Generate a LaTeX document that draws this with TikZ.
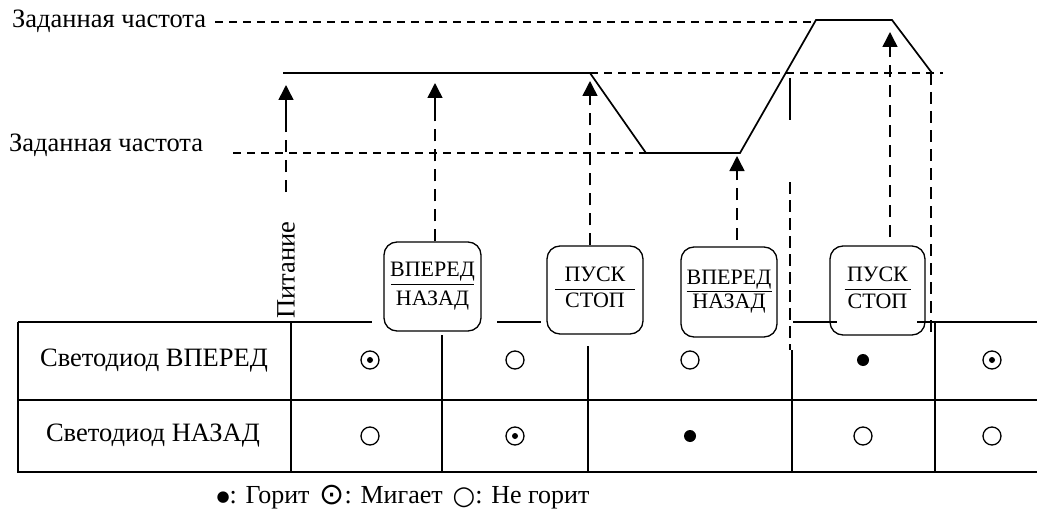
\documentclass[tikz,border=0pt]{standalone}
\usepackage{fontspec}
\setmainfont{Liberation Serif}
\newfontfamily\symf{DejaVu Sans}
\usetikzlibrary{arrows.meta}
\newcommand\frc[4]{\raisebox{#4}{\begin{tabular}{@{}c@{}}\makebox[#3]{#1}\\\hline\rule{0pt}{#2}\makebox[#3]{НАЗАД}\end{tabular}}}
\newcommand\frcb[4]{\raisebox{#4}{\begin{tabular}{@{}c@{}}\makebox[#3]{#1}\\\hline\rule{0pt}{#2}\makebox[#3]{СТОП}\end{tabular}}}
\begin{document}
\begin{tikzpicture}[x=1pt,y=-1pt,
  wave/.style={line width=1.7pt},
  hdash/.style={line width=1.5pt, dash pattern=on 8pt off 6pt},
  vdash/.style={line width=1.5pt, dash pattern=on 12pt off 8pt},
  arr/.style={-{Triangle[length=15pt,width=15pt]}, line width=1.5pt},
  tbl/.style={line width=1.7pt},
  btn/.style={draw, line width=1.3pt, rounded corners=13pt, inner sep=0pt,
    font=\fontsize{22}{23}\selectfont},
  lbl/.style={font=\fontsize{26.5}{28}\selectfont, inner sep=0pt},
  ledoff/.style={circle, draw, line width=1.3pt, minimum size=18pt, inner sep=0pt},
  ledon/.style={circle, fill, minimum size=12pt, inner sep=0pt},
  ledblink/.style={circle, draw, line width=1.3pt, minimum size=18pt, inner sep=0pt,
    path picture={\fill (path picture bounding box.center) circle (3pt);}}
]
\useasboundingbox (0,0) rectangle (1037,519);

% labels
\node[lbl, anchor=west] (ftop) at (12,21) {Заданная частота};
\node[lbl, anchor=west] (fmid) at (9,145) {Заданная частота};
\node[lbl, rotate=90] (pit) at (286,270) {Питание};

% reference levels
\draw[hdash] (215,22) -- (816,22);
\draw[hdash] (590,73) -- (943,73);
\draw[hdash] (233,153) -- (646,153);

% frequency profile
\draw[wave] (283,73) -- (590,73) -- (646,153) -- (740,153) -- (816,20) -- (892,20) -- (932,73);

% buttons
\node[btn, minimum width=97pt, minimum height=89pt] (b1) at (432.5,286.5) {\frc{ВПЕРЕД}{21pt}{83pt}{3pt}};
\node[btn, minimum width=96pt, minimum height=88pt] (b2) at (595,290) {\frcb{ПУСК}{18pt}{80pt}{6pt}};
\node[btn, minimum width=96pt, minimum height=90pt] (b3) at (729,292) {\frc{ВПЕРЕД}{17pt}{85pt}{7pt}};
\node[btn, minimum width=95pt, minimum height=89pt] (b4) at (877.5,290.5) {\frcb{ПУСК}{19pt}{66pt}{3pt}};

% event arrows
\coordinate (t1) at (286,85);
\coordinate (s1) at (286,125);
\coordinate (e1) at (286,192);
\draw[vdash] (e1) -- (s1);
\draw[arr] (s1) -- (t1);

\coordinate (t2) at (435,83);
\coordinate (s2) at (435,118);
\draw[vdash] (b1.north -| t2) -- (s2);
\draw[arr] (s2) -- (t2);

\coordinate (t3) at (590,81);
\coordinate (s3) at (590,98);
\draw[vdash] (b2.north -| t3) -- (s3);
\draw[arr] (s3) -- (t3);

\coordinate (t4) at (737,156);
\coordinate (s4) at (737,173);
\coordinate (e4) at (737,240);
\draw[vdash] (e4) -- (s4);
\draw[arr] (s4) -- (t4);

\coordinate (t5) at (890,32);
\coordinate (s5) at (890,49);
\coordinate (e5) at (890,237);
\draw[vdash] (e5) -- (s5);
\draw[arr] (s5) -- (t5);

% marker lines
\draw[line width=1.5pt] (790,78) -- (790,120);
\draw[line width=1.5pt, dash pattern=on 12pt off 6pt] (790,182) -- (790,350);
\draw[line width=1.5pt, dash pattern=on 12pt off 7pt] (931,73) -- (931,337);

% table
\draw[tbl] (18,322) -- (18,472) -- (1037,472);
\draw[tbl] (18,400) -- (1037,400);
\draw[tbl] (18,322) -- (372,322);
\draw[tbl] (497,322) -- (541,322);
\draw[tbl] (793,322) -- (837,322);
\draw[tbl] (917,322) -- (1037,322);
\draw[tbl] (291,322) -- (291,472);
\draw[tbl] (442,335) -- (442,472);
\draw[tbl] (588,346) -- (588,472);
\draw[tbl] (792,350) -- (792,472);
\draw[tbl] (935,322) -- (935,472);

\node[lbl] (r1) at (154,361) {Светодиод ВПЕРЕД};
\node[lbl] (r2) at (153,436) {Светодиод НАЗАД};

\node[ledblink] (c12) at (370,360) {};
\node[ledoff]   (c13) at (515,360) {};
\node[ledoff]   (c14) at (690,360) {};
\node[ledon]    (c15) at (863,360) {};
\node[ledblink] (c16) at (992,360) {};
\node[ledoff]   (c22) at (370,436) {};
\node[ledblink] (c23) at (515,436) {};
\node[ledon]    (c24) at (690,436) {};
\node[ledoff]   (c25) at (863,436) {};
\node[ledoff]   (c26) at (992,436) {};

% legend
\node[font=\fontsize{26}{28}\selectfont, inner sep=0pt] (leg) at (403,497)
  {\raisebox{2pt}{\symf\fontsize{15}{15}\selectfont ●}: Горит\hspace{10pt}\raisebox{-1pt}{\symf\fontsize{30}{30}\selectfont ⊙}: Мигает\hspace{10pt}\raisebox{-1pt}{\symf\fontsize{26}{26}\selectfont ○}: Не горит};
\end{tikzpicture}
\end{document}
